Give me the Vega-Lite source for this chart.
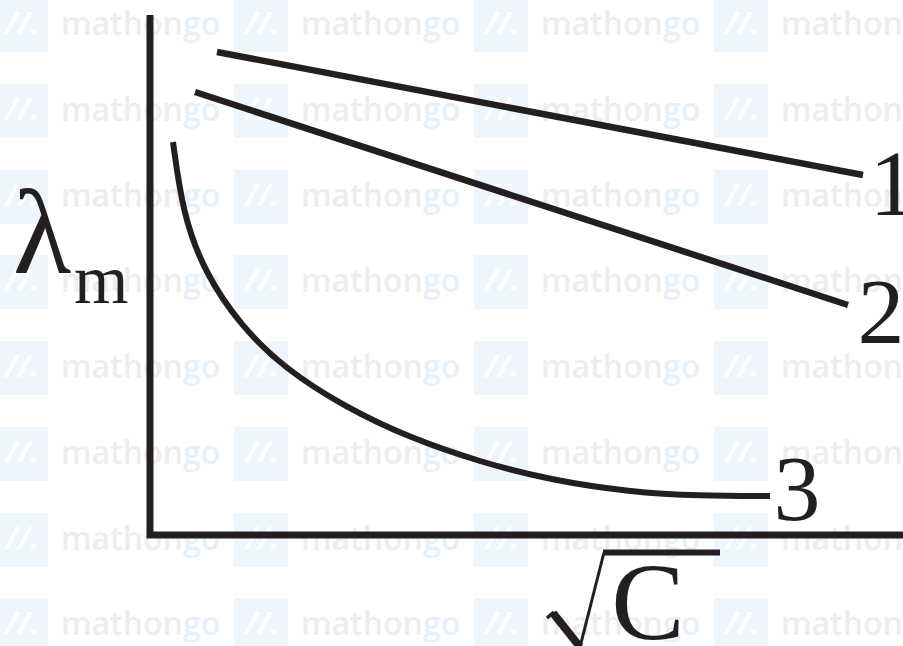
{
  "$schema": "https://vega.github.io/schema/vega-lite/v6.json",
  "width": 903,
  "height": 646,
  "padding": 0,
  "autosize": {"type": "none"},
  "background": "white",
  "config": {"view": {"stroke": null}},
  "datasets": {
    "tiles": [
      {"tx": -1.29, "ty": 5.10}, {"tx": 1.11, "ty": 5.10}, {"tx": 3.51, "ty": 5.10}, {"tx": 5.91, "ty": 5.10},
      {"tx": -1.29, "ty": 4.24}, {"tx": 1.11, "ty": 4.24}, {"tx": 3.51, "ty": 4.24}, {"tx": 5.91, "ty": 4.24},
      {"tx": -1.29, "ty": 3.38}, {"tx": 1.11, "ty": 3.38}, {"tx": 3.51, "ty": 3.38}, {"tx": 5.91, "ty": 3.38},
      {"tx": -1.29, "ty": 2.53}, {"tx": 1.11, "ty": 2.53}, {"tx": 3.51, "ty": 2.53}, {"tx": 5.91, "ty": 2.53},
      {"tx": -1.29, "ty": 1.67}, {"tx": 1.11, "ty": 1.67}, {"tx": 3.51, "ty": 1.67}, {"tx": 5.91, "ty": 1.67},
      {"tx": -1.29, "ty": 0.81}, {"tx": 1.11, "ty": 0.81}, {"tx": 3.51, "ty": 0.81}, {"tx": 5.91, "ty": 0.81},
      {"tx": -1.29, "ty": -0.05}, {"tx": 1.11, "ty": -0.05}, {"tx": 3.51, "ty": -0.05}, {"tx": 5.91, "ty": -0.05},
      {"tx": -1.29, "ty": -0.90}, {"tx": 1.11, "ty": -0.90}, {"tx": 3.51, "ty": -0.90}, {"tx": 5.91, "ty": -0.90}
    ],
    "paths": [
      {"series": "axes", "order": 1, "x": 0, "y": 5.20},
      {"series": "axes", "order": 2, "x": 0, "y": 0},
      {"series": "axes", "order": 3, "x": 7.60, "y": 0},

      {"series": "1", "order": 1, "x": 0.67, "y": 4.83},
      {"series": "1", "order": 2, "x": 7.13, "y": 3.60},

      {"series": "2", "order": 1, "x": 0.45, "y": 4.43},
      {"series": "2", "order": 2, "x": 6.98, "y": 2.30},

      {"series": "3", "order": 1, "x": 0.23, "y": 3.93},
      {"series": "3", "order": 2, "x": 0.33, "y": 3.20},
      {"series": "3", "order": 3, "x": 0.55, "y": 2.62},
      {"series": "3", "order": 4, "x": 0.90, "y": 2.10},
      {"series": "3", "order": 5, "x": 1.35, "y": 1.66},
      {"series": "3", "order": 6, "x": 1.95, "y": 1.28},
      {"series": "3", "order": 7, "x": 2.60, "y": 0.97},
      {"series": "3", "order": 8, "x": 3.30, "y": 0.73},
      {"series": "3", "order": 9, "x": 4.00, "y": 0.55},
      {"series": "3", "order": 10, "x": 4.80, "y": 0.43},
      {"series": "3", "order": 11, "x": 5.50, "y": 0.39},
      {"series": "3", "order": 12, "x": 6.20, "y": 0.39},

      {"series": "radical-tick", "order": 1, "x": 3.97, "y": -0.83},
      {"series": "radical-tick", "order": 2, "x": 4.04, "y": -0.77},
      {"series": "radical-stem", "order": 1, "x": 4.03, "y": -0.78},
      {"series": "radical-stem", "order": 2, "x": 4.30, "y": -1.12},
      {"series": "radical-rise", "order": 1, "x": 4.30, "y": -1.12},
      {"series": "radical-rise", "order": 2, "x": 4.54, "y": -0.175},
      {"series": "vinculum", "order": 1, "x": 4.53, "y": -0.175},
      {"series": "vinculum", "order": 2, "x": 5.70, "y": -0.175}
    ],
    "labels": [
      {"label": "1", "x": 7.43, "y": 3.20},
      {"label": "2", "x": 7.31, "y": 1.92},
      {"label": "3", "x": 6.47, "y": 0.15}
    ],
    "titles": [
      {"name": "lambda", "x": -1.37, "y": 2.62},
      {"name": "m", "x": -0.76, "y": 2.32},
      {"name": "C", "x": 4.98, "y": -1.04}
    ]
  },
  "encoding": {
    "x": {"field": "x", "type": "quantitative", "scale": {"domain": [-1.5, 7.53], "nice": false, "zero": false}, "axis": null},
    "y": {"field": "y", "type": "quantitative", "scale": {"domain": [-1.11, 5.35], "nice": false, "zero": false}, "axis": null}
  },
  "layer": [
    {
      "data": {"name": "tiles"},
      "mark": {"type": "point", "shape": "square", "size": 2900, "filled": true, "fill": "#eef5fd", "opacity": 1, "strokeWidth": 0},
      "encoding": {
        "x": {"field": "tx", "type": "quantitative"},
        "y": {"field": "ty", "type": "quantitative"}
      }
    },
    {
      "data": {"name": "tiles"},
      "mark": {"type": "text", "text": "//.", "font": "Open Sans", "fontSize": 30, "fontWeight": "bold", "fontStyle": "italic", "color": "white", "align": "center", "baseline": "middle", "dx": 1},
      "encoding": {
        "x": {"field": "tx", "type": "quantitative"},
        "y": {"field": "ty", "type": "quantitative"}
      }
    },
    {
      "data": {"name": "tiles"},
      "mark": {"type": "text", "text": "mathon", "font": "Open Sans", "fontSize": 32, "fontWeight": 600, "color": "#ededed", "align": "left", "baseline": "alphabetic", "dx": 40, "dy": 10},
      "encoding": {
        "x": {"field": "tx", "type": "quantitative"},
        "y": {"field": "ty", "type": "quantitative"}
      }
    },
    {
      "data": {"name": "tiles"},
      "mark": {"type": "text", "text": "go", "font": "Open Sans", "fontSize": 32, "fontWeight": 600, "color": "#e6f0fb", "align": "left", "baseline": "alphabetic", "dx": 162, "dy": 10},
      "encoding": {
        "x": {"field": "tx", "type": "quantitative"},
        "y": {"field": "ty", "type": "quantitative"}
      }
    },
    {
      "data": {"name": "paths"},
      "transform": [{"filter": "datum.series === 'axes'"}],
      "mark": {"type": "line", "color": "#231f20", "strokeWidth": 7, "strokeJoin": "miter", "strokeCap": "butt"},
      "encoding": {"order": {"field": "order", "type": "quantitative"}}
    },
    {
      "data": {"name": "paths"},
      "transform": [{"filter": "datum.series === '1' || datum.series === '2'"}],
      "mark": {"type": "line", "color": "#231f20", "strokeWidth": 6.5, "strokeCap": "butt"},
      "encoding": {
        "detail": {"field": "series", "type": "nominal"},
        "order": {"field": "order", "type": "quantitative"}
      }
    },
    {
      "data": {"name": "paths"},
      "transform": [{"filter": "datum.series === '3'"}],
      "mark": {"type": "line", "color": "#231f20", "strokeWidth": 6, "strokeCap": "butt", "interpolate": "basis"},
      "encoding": {"order": {"field": "order", "type": "quantitative"}}
    },
    {
      "data": {"name": "paths"},
      "transform": [{"filter": "datum.series === 'radical-tick'"}],
      "mark": {"type": "line", "color": "#231f20", "strokeWidth": 3.5, "strokeCap": "butt"},
      "encoding": {"order": {"field": "order", "type": "quantitative"}}
    },
    {
      "data": {"name": "paths"},
      "transform": [{"filter": "datum.series === 'radical-stem'"}],
      "mark": {"type": "line", "color": "#231f20", "strokeWidth": 8, "strokeCap": "butt"},
      "encoding": {"order": {"field": "order", "type": "quantitative"}}
    },
    {
      "data": {"name": "paths"},
      "transform": [{"filter": "datum.series === 'radical-rise'"}],
      "mark": {"type": "line", "color": "#231f20", "strokeWidth": 3, "strokeCap": "butt"},
      "encoding": {"order": {"field": "order", "type": "quantitative"}}
    },
    {
      "data": {"name": "paths"},
      "transform": [{"filter": "datum.series === 'vinculum'"}],
      "mark": {"type": "line", "color": "#231f20", "strokeWidth": 6, "strokeCap": "butt"},
      "encoding": {"order": {"field": "order", "type": "quantitative"}}
    },
    {
      "data": {"name": "labels"},
      "mark": {"type": "text", "font": "Liberation Serif", "fontSize": 94, "color": "#231f20", "align": "center", "baseline": "alphabetic"},
      "encoding": {"text": {"field": "label", "type": "nominal"}}
    },
    {
      "data": {"name": "titles"},
      "transform": [{"filter": "datum.name === 'lambda'"}],
      "mark": {"type": "text", "text": "λ", "font": "Liberation Serif", "fontSize": 120, "color": "#231f20", "align": "left", "baseline": "alphabetic"}
    },
    {
      "data": {"name": "titles"},
      "transform": [{"filter": "datum.name === 'm'"}],
      "mark": {"type": "text", "text": "m", "font": "Liberation Serif", "fontSize": 70, "color": "#231f20", "align": "left", "baseline": "alphabetic"}
    },
    {
      "data": {"name": "titles"},
      "transform": [{"filter": "datum.name === 'C'"}],
      "mark": {"type": "text", "text": "C", "font": "Liberation Serif", "fontSize": 110, "color": "#231f20", "align": "center", "baseline": "alphabetic"}
    }
  ]
}
